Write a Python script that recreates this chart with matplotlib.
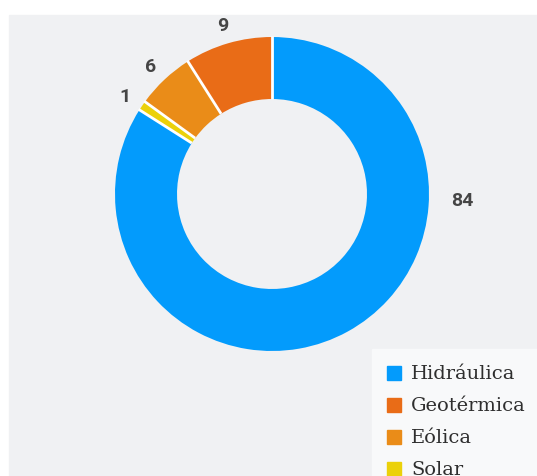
import numpy as np
import matplotlib.pyplot as plt
from matplotlib.patches import Rectangle

# energy mix by source (%), drawn clockwise from the top
sources = ['Hidráulica', 'Solar', 'Eólica', 'Geotérmica']
shares = [84, 1, 6, 9]
colors = ['#039BFC', '#EBD10A', '#EA8C18', '#E96C17']

# legend order
legend_order = ['Hidráulica', 'Geotérmica', 'Eólica', 'Solar']

W, H = 537, 477
fig = plt.figure(figsize=(W / 100, H / 100), dpi=100)
fig.patch.set_facecolor('white')
ax = fig.add_axes([0, 0, 1, 1])

# gray panel and lighter legend box
ax.add_patch(Rectangle((9, 0), W - 9, H - 16, color='#F0F1F3', zorder=0))
ax.add_patch(Rectangle((372, 0), W - 372, H - 350, color='#F8F9FA', zorder=1))

cx, cy = 272, H - 195
r_out = 157
r_in = r_out * 0.605
ax.pie(shares, colors=colors, startangle=90, counterclock=False,
       radius=r_out, center=(cx, cy), frame=True,
       wedgeprops=dict(width=r_out - r_in, linewidth=0))
ax.set_xlim(0, W)
ax.set_ylim(0, H)
ax.set_aspect('equal')
ax.axis('off')

# white gaps between slices, plus value labels
total = sum(shares)
start = 90.0
for val in shares:
    span = 360.0 * val / total
    a = np.radians(start)
    ax.plot([cx + r_in * np.cos(a), cx + (r_out + 1) * np.cos(a)],
            [cy + r_in * np.sin(a), cy + (r_out + 1) * np.sin(a)],
            color='white', lw=2, solid_capstyle='butt', zorder=4)
    mid = start - span / 2
    if span > 180:
        x, y = cx + 190, cy - 6
    else:
        x = cx + 178 * np.cos(np.radians(mid))
        y = cy + 178 * np.sin(np.radians(mid)) - 2
    ax.text(x, y, str(val), ha='center', va='center', fontsize=14,
            fontweight='bold', family=['Roboto', 'DejaVu Sans'], color='#454545')
    start -= span

# legend
for i, name in enumerate(legend_order):
    y = H - (374 + 32 * i)
    c = colors[sources.index(name)]
    ax.add_patch(Rectangle((387, y - 7), 14, 14, color=c, zorder=3))
    ax.text(411, y, name, ha='left', va='center', fontsize=14,
            family=['DejaVu Serif'], color='#2E2E2E', zorder=3)

fig.savefig('out.png', dpi=100)
